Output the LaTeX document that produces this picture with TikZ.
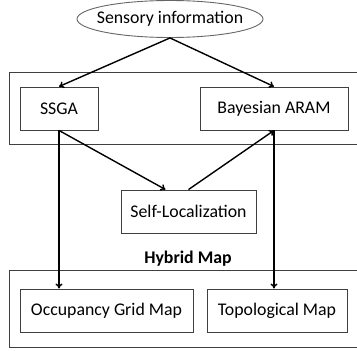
\documentclass[tikz,border=0pt]{standalone}
\usepackage{fontspec}
\setmainfont{Carlito}
\usetikzlibrary{shapes.geometric,arrows.meta}
\begin{document}
\begin{tikzpicture}[x=1pt,y=-1pt,
  lbl/.style={font=\fontsize{17.8}{20}\selectfont},
  box/.style={draw=black!75,line width=0.9pt,rectangle,inner sep=0pt,lbl},
  flow/.style={line width=1.4pt,-{To[length=5pt,width=7pt]}},
  group/.style={draw=black!75,line width=0.9pt}]
\useasboundingbox (0,0) rectangle (357,351);
% outer grouping frames (right side runs off the page)
\draw[group] (358,72) -- (9,72) -- (9,144) -- (358,144);
\draw[group] (358,270) -- (9,270) -- (9,347) -- (358,347);
% nodes
\node[ellipse,draw=black!60,line width=0.9pt,minimum width=186pt,minimum height=37pt,
  inner xsep=-25pt,inner ysep=0pt,lbl] (sens) at (170,19) {Sensory information};
\node[box,minimum width=78pt,minimum height=43pt] (ssga) at (59,108.5) {SSGA};
\node[box,minimum width=148pt,minimum height=43pt] (bayes) at (274,108.5) {Bayesian ARAM};
\node[box,minimum width=135pt,minimum height=43pt] (self) at (188.5,211.5) {Self-Localization};
\node[lbl,font=\bfseries\fontsize{17.8}{20}\selectfont] (hyb) at (188,259) {Hybrid Map};
\node[box,minimum width=173pt,minimum height=43pt] (occ) at (106.5,310.5) {Occupancy Grid Map};
\node[box,minimum width=140pt,minimum height=43pt] (topo) at (277,310.5) {Topological Map};
% connectors
\draw[flow] (sens.south) -- (ssga.north);
\draw[flow] (sens.south) -- (bayes.north);
\draw[flow] (ssga.south) -- ([xshift=-23pt]self.north);
\draw[flow] (self.north) -- (bayes.south);
\draw[flow] (ssga.south) -- (ssga.south |- occ.north);
\draw[flow] (bayes.south) -- (bayes.south |- topo.north);
\end{tikzpicture}
\end{document}
